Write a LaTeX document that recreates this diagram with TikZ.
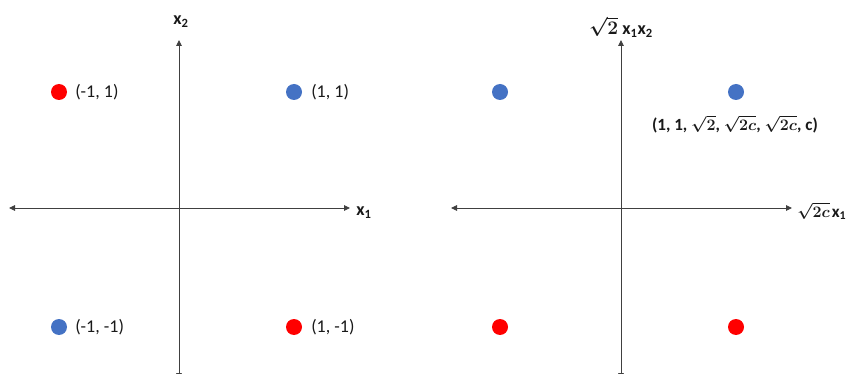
\documentclass[tikz,border=0pt]{standalone}
\usepackage{amsmath,bm}
\usepackage{fontspec}
\setmainfont{Carlito}
\usetikzlibrary{arrows.meta}
\definecolor{dotred}{HTML}{FF0000}
\definecolor{dotblue}{HTML}{4472C4}
\definecolor{axisgray}{HTML}{404040}
\begin{document}
\begin{tikzpicture}[x=0.75pt,y=-0.75pt,
  axis/.style={draw=axisgray,line width=0.6pt,{Triangle[length=4.5pt,width=4.2pt]}-{Triangle[length=4.5pt,width=4.2pt]}},
  reddot/.style={circle,fill=dotred,minimum size=12pt,inner sep=0pt},
  bluedot/.style={circle,fill=dotblue,minimum size=12pt,inner sep=0pt},
  lbl/.style={font=\fontsize{13.5}{16}\selectfont,inner sep=0pt,text=black!90},
  blbl/.style={font=\fontsize{13.5}{16}\selectfont\bfseries,inner sep=0pt,text=black!90},
  sblbl/.style={font=\fontsize{12.8}{15}\selectfont\bfseries,inner sep=0pt,text=black!90}]
\useasboundingbox (0,0) rectangle (850,374);
% left panel axes
\coordinate (Ll) at (9,208);
\coordinate (Lr) at (350,208);
\coordinate (Lt) at (179,40);
\coordinate (Lb) at (179,379);
\draw[axis] (Ll) -- (Lr);
\draw[axis] (Lb) -- (Lt);
\node[blbl,anchor=west] (Lx1) at (356,213) {x\textsubscript{1}};
\node[blbl] (Lx2) at (181,22) {x\textsubscript{2}};
% left panel points
\node[reddot] (p1) at (59,92) {};
\node[bluedot] (p2) at (294,92) {};
\node[bluedot] (p3) at (59,327) {};
\node[reddot] (p4) at (294,327) {};
\node[lbl,anchor=west] (t1) at (75,92) {(-1, 1)};
\node[lbl,anchor=west] (t2) at (311,92) {(1, 1)};
\node[lbl,anchor=west] (t3) at (75,327) {(-1, -1)};
\node[lbl,anchor=west] (t4) at (311,327) {(1, -1)};
% right panel axes
\coordinate (Rl) at (451,208);
\coordinate (Rr) at (792,208);
\coordinate (Rt) at (621,40);
\coordinate (Rb) at (621,379);
\draw[axis] (Rl) -- (Rr);
\draw[axis] (Rb) -- (Rt);
\node[sblbl,anchor=west] (Rx1) at (797,211) {$\bm{\sqrt{2c}}$\kern1.5pt x\textsubscript{1}};
\node[blbl] (Rx2) at (621,27) {$\bm{\sqrt{2}}$ x\textsubscript{1}x\textsubscript{2}};
% right panel points
\node[bluedot] (q1) at (500,92) {};
\node[bluedot] (q2) at (736,92) {};
\node[reddot] (q3) at (500,327) {};
\node[reddot] (q4) at (736,327) {};
\node[sblbl] (qlab) at (735,124) {(1, 1, $\bm{\sqrt{2}}$, $\bm{\sqrt{2c}}$, $\bm{\sqrt{2c}}$, c)};
\end{tikzpicture}
\end{document}
